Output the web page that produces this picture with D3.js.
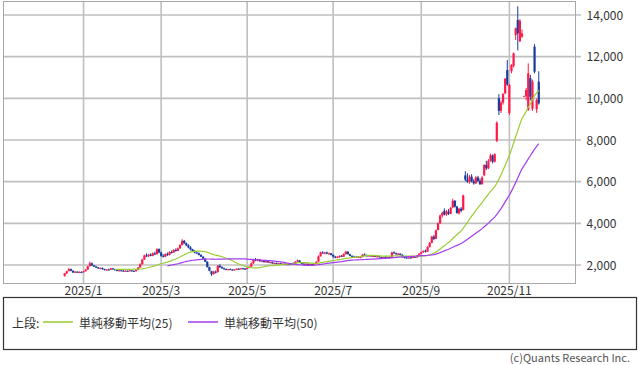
<!DOCTYPE html>
<html>
<head>
<meta charset="utf-8">
<style>
  body { margin: 0; background: #fff; }
  svg text { font-family: "Noto Sans CJK JP", "DejaVu Sans", sans-serif; }
  .axis text { font-size: 12px; fill: #333; }
  .axis path { display: none; }
  .grid line { stroke: #bfbfbf; stroke-width: 1.6; }
</style>
<script src="https://d3js.org/d3.v7.min.js"></script>
</head>
<body>
<script>
// trading days of each month (day of month)
const monthKeys = ["2024/12", "2025/1", "2025/2", "2025/3", "2025/4", "2025/5",
                   "2025/6", "2025/7", "2025/8", "2025/9", "2025/10", "2025/11"];
const monthDays = [
  [18, 19, 20, 23, 24, 25, 26, 27, 30],
  [6, 7, 8, 9, 10, 14, 15, 16, 17, 20, 21, 22, 23, 24, 27, 28, 29, 30, 31],
  [3, 4, 5, 6, 7, 10, 12, 13, 14, 17, 18, 19, 20, 21, 25, 26, 27, 28],
  [3, 4, 5, 6, 7, 10, 11, 12, 13, 14, 17, 18, 19, 21, 24, 25, 26, 27, 28, 31],
  [1, 2, 3, 4, 7, 8, 9, 10, 11, 14, 15, 16, 17, 18, 21, 22, 23, 24, 25, 28, 30],
  [1, 2, 7, 8, 9, 12, 13, 14, 15, 16, 19, 20, 21, 22, 23, 26, 27, 28, 29, 30],
  [2, 3, 4, 5, 6, 9, 10, 11, 12, 13, 16, 17, 18, 19, 20, 23, 24, 25, 26, 27, 30],
  [1, 2, 3, 4, 7, 8, 9, 10, 11, 14, 15, 16, 17, 18, 22, 23, 24, 25, 28, 29, 30, 31],
  [1, 4, 5, 6, 7, 8, 12, 13, 14, 15, 18, 19, 20, 21, 22, 25, 26, 27, 28, 29],
  [1, 2, 3, 4, 5, 8, 9, 10, 11, 12, 16, 17, 18, 19, 22, 24, 25, 26, 29, 30],
  [1, 2, 3, 6, 7, 8, 9, 10, 14, 15, 16, 17, 20, 21, 22, 23, 24, 27, 28, 29, 30, 31],
  [4, 5, 6, 7, 10, 11, 12, 13, 14, 17, 18, 19, 20, 21, 25]
];

// daily [open, high, low, close], one array per month
const ohlcDec = [
  [1480,1620,1440,1600],[1600,1720,1560,1700],[1720,1860,1680,1800],[1800,1830,1700,1720],
  [1720,1750,1620,1640],[1640,1700,1620,1680],[1680,1700,1620,1640],[1640,1700,1620,1660],
  [1660,1700,1630,1650]];
const ohlcJan = [
  [1660,1720,1640,1700],[1700,1800,1690,1780],[1780,1960,1760,1940],[1950,2160,1920,2080],
  [2080,2120,1960,1980],[1980,2000,1900,1920],[1920,1960,1860,1880],[1880,1900,1820,1840],
  [1840,1880,1800,1860],[1860,1880,1780,1800],[1800,1820,1740,1760],[1760,1800,1740,1780],
  [1780,1820,1750,1770],[1770,1860,1760,1840],[1840,1860,1780,1800],[1800,1820,1740,1760],
  [1760,1780,1700,1720],[1720,1760,1700,1740],[1740,1770,1710,1730]];
const ohlcFeb = [
  [1730,1750,1680,1700],[1700,1740,1680,1720],[1720,1740,1690,1710],[1710,1760,1700,1740],
  [1740,1760,1700,1720],[1720,1740,1690,1700],[1700,1780,1690,1760],[1760,1900,1750,1880],
  [1880,2080,1860,2040],[2040,2300,2020,2260],[2260,2500,2240,2460],[2460,2560,2380,2420],
  [2420,2520,2380,2500],[2500,2560,2420,2440],[2440,2600,2420,2560],[2560,2640,2480,2520],
  [2520,2800,2500,2760],[2760,2800,2560,2600]];
const ohlcMar = [
  [2600,2640,2400,2440],[2440,2520,2360,2400],[2400,2560,2380,2520],[2520,2600,2440,2480],
  [2480,2660,2460,2620],[2620,2700,2560,2600],[2600,2760,2580,2720],[2720,2800,2640,2680],
  [2680,2840,2660,2800],[2800,3000,2780,2960],[2960,3240,2940,3160],[3160,3200,3000,3040],
  [3040,3080,2900,2940],[2940,3000,2800,2840],[2840,2900,2700,2740],[2740,2780,2620,2660],
  [2660,2720,2560,2600],[2600,2640,2540,2560],[2560,2600,2460,2480],[2480,2520,2380,2400]];
const ohlcApr = [
  [2400,2420,2280,2300],[2300,2320,2140,2160],[2160,2180,1880,1900],[1900,1920,1700,1720],
  [1700,1720,1480,1560],[1560,1720,1540,1680],[1680,1740,1600,1640],[1660,2000,1640,1960],
  [1960,2040,1860,1900],[1900,1940,1820,1840],[1840,1880,1780,1800],[1800,1840,1760,1780],
  [1780,1820,1750,1800],[1800,1830,1760,1780],[1780,1800,1740,1760],[1760,1800,1740,1790],
  [1790,1840,1770,1820],[1820,1850,1780,1800],[1800,1860,1790,1840],[1840,1860,1800,1820],
  [1820,1860,1790,1810]];
const ohlcMay = [
  [1810,1880,1800,1860],[1860,1940,1850,1920],[1920,2120,1900,2080],[2080,2300,2060,2260],
  [2260,2340,2180,2220],[2220,2300,2180,2260],[2260,2280,2160,2180],[2180,2240,2140,2200],
  [2200,2220,2120,2140],[2140,2200,2100,2180],[2180,2200,2100,2120],[2120,2160,2080,2140],
  [2140,2160,2060,2080],[2080,2120,2040,2100],[2100,2120,2040,2060],[2060,2100,2020,2080],
  [2080,2100,2020,2040],[2040,2080,2000,2060],[2060,2080,2000,2020],[2020,2060,1990,2040]];
const ohlcJun = [
  [2040,2080,2000,2020],[2020,2100,2010,2080],[2080,2120,2040,2060],[2060,2180,2050,2160],
  [2160,2260,2140,2220],[2220,2240,2100,2120],[2120,2140,2040,2060],[2060,2100,2020,2040],
  [2040,2080,2000,2060],[2060,2080,2000,2020],[2020,2060,1990,2040],[2040,2060,2000,2020],
  [2020,2080,2010,2060],[2060,2180,2040,2160],[2160,2460,2150,2420],[2420,2640,2400,2600],
  [2600,2660,2540,2560],[2560,2620,2520,2600],[2600,2640,2520,2540],[2540,2600,2500,2560],
  [2560,2580,2460,2480]];
const ohlcJul = [
  [2480,2520,2360,2400],[2400,2440,2320,2360],[2360,2420,2320,2400],[2400,2460,2340,2440],
  [2440,2480,2380,2400],[2400,2560,2390,2520],[2520,2680,2500,2640],[2640,2660,2500,2520],
  [2520,2540,2420,2440],[2440,2460,2380,2400],[2400,2440,2360,2380],[2380,2420,2340,2400],
  [2400,2420,2340,2360],[2360,2400,2320,2380],[2380,2520,2370,2500],[2500,2560,2440,2460],
  [2460,2500,2420,2440],[2440,2480,2400,2460],[2460,2480,2400,2420],[2420,2460,2380,2440],
  [2440,2460,2380,2400],[2400,2440,2360,2420]];
const ohlcAug = [
  [2420,2440,2360,2380],[2380,2400,2320,2340],[2340,2400,2330,2380],[2380,2420,2340,2360],
  [2360,2400,2320,2380],[2380,2400,2340,2360],[2360,2640,2350,2600],[2600,2660,2540,2560],
  [2560,2600,2500,2520],[2520,2580,2480,2540],[2540,2560,2460,2480],[2480,2520,2360,2380],
  [2380,2420,2320,2360],[2360,2400,2300,2320],[2320,2380,2300,2360],[2360,2400,2320,2340],
  [2340,2420,2330,2400],[2400,2420,2340,2360],[2360,2480,2350,2460],[2460,2560,2440,2540]];
const ohlcSep = [
  [2540,2640,2520,2620],[2620,2700,2580,2680],[2680,2740,2600,2640],[2640,2900,2620,2860],
  [2860,3100,2840,3060],[3060,3400,3040,3360],[3360,3440,3200,3260],[3260,3700,3240,3660],
  [3680,4040,3660,4000],[4000,4420,3980,4380],[4380,4560,4280,4500],[4600,4720,4380,4420],
  [4420,4640,4360,4560],[4560,4680,4400,4460],[4460,4780,4440,4740],[4760,5180,4720,5080],
  [5080,5120,4760,4800],[4800,4840,4460,4500],[4480,4740,4420,4700],[4700,4780,4540,4600]];
const ohlcOct = [
  [4640,5380,4620,5340],[6300,6500,6020,6100],[6100,6400,5940,6000],[6000,6320,5900,6240],
  [6240,6360,5960,6020],[6020,6120,5860,5920],[5920,6260,5880,6200],[6200,6280,5980,6040],
  [6040,6160,5840,5880],[5880,6280,5860,6200],[6300,6840,6280,6800],[6800,7000,6560,6640],
  [6640,7080,6600,7000],[7000,7340,6960,7260],[7260,7300,6880,6960],[6960,7360,6920,7320],
  [7960,8900,7900,8820],[10000,10200,9200,9400],[9400,9900,9300,9800],[9800,10260,9700,10200],
  [10240,10980,10200,10940],[11360,11840,10600,10660]];
const ohlcNov = [
  [9300,10700,9200,10640],[11300,11640,11200,11600],[11560,12200,11480,12160],
  [13040,13400,12800,13360],[13760,14420,12300,13120],[12740,13800,12700,13720],
  [12960,13300,12900,13120],[10120,10120,10120,10120],[10100,10500,9900,10400],
  [9440,11680,9400,11200],[10960,11120,9900,10080],[9500,10900,9400,10800],
  [12480,12600,11200,11280],[9480,10000,9300,9920],[10800,11300,9700,9760]];

const yTicks = [2000, 4000, 6000, 8000, 10000, 12000, 14000];
const gridMonths = ["2025/1", "2025/3", "2025/5", "2025/7", "2025/9", "2025/11"];
const maPeriods = [25, 50];
const maColors = ["#9acd32", "#a23cf0"];
const legendLabels = ["単純移動平均(25)", "単純移動平均(50)"];

const width = 639, height = 365;
const monthly = [ohlcDec, ohlcJan, ohlcFeb, ohlcMar, ohlcApr, ohlcMay,
                 ohlcJun, ohlcJul, ohlcAug, ohlcSep, ohlcOct, ohlcNov];

const data = [];
monthKeys.forEach(function (m, mi) {
  monthDays[mi].forEach(function (d, di) {
    const v = monthly[mi][di];
    data.push({ key: m + "/" + d, month: m, open: v[0], high: v[1], low: v[2], close: v[3] });
  });
});

// simple moving average of closes
function sma(n) {
  return data.map(function (d, i) {
    if (i < n - 1) return null;
    return d3.mean(data.slice(i - n + 1, i + 1), function (e) { return e.close; });
  });
}

const svg = d3.select("body").append("svg")
  .attr("width", width).attr("height", height);
svg.append("rect").attr("width", width).attr("height", height).attr("fill", "#fff");

const plot = { left: 3.5, top: 1.5, right: 575.5, bottom: 283.5 };

const x = d3.scaleBand().domain(data.map(d => d.key)).range([63.6, 539.8]);
const y = d3.scaleLinear().domain([2000, 14000]).range([265, 15]);
const cx = k => x(k) + x.bandwidth() / 2;

const firstOfMonth = gridMonths.map(m => data.find(d => d.month === m).key);

// grid
const grid = svg.append("g").attr("class", "grid");
grid.selectAll(".hg").data(yTicks).enter().append("line")
  .attr("x1", plot.left).attr("x2", 581)
  .attr("y1", d => y(d)).attr("y2", d => y(d));
grid.selectAll(".vg").data(firstOfMonth).enter().append("line")
  .attr("x1", d => cx(d)).attr("x2", d => cx(d))
  .attr("y1", plot.top).attr("y2", plot.bottom);

svg.append("rect")
  .attr("x", plot.left).attr("y", plot.top)
  .attr("width", plot.right - plot.left).attr("height", plot.bottom - plot.top)
  .attr("fill", "none").attr("stroke", "#a8a8a8").attr("stroke-width", 1);

// axes
svg.append("g").attr("class", "axis")
  .attr("transform", "translate(" + plot.right + ",0)")
  .call(d3.axisRight(y).tickValues(yTicks).tickSize(0).tickPadding(11).tickFormat(d3.format(",")))
  .selectAll("text").attr("dy", "0.35em");

svg.append("g").attr("class", "axis")
  .attr("transform", "translate(0," + plot.bottom + ")")
  .call(d3.axisBottom(x).tickValues(firstOfMonth).tickSize(0).tickPadding(3)
    .tickFormat(k => k.split("/").slice(0, 2).join("/")));

// candles
const up = "#ff1a4a", down = "#173c9c";
const candles = svg.append("g").selectAll("g").data(data).enter().append("g");
candles.append("line")
  .attr("x1", d => cx(d.key)).attr("x2", d => cx(d.key))
  .attr("y1", d => y(d.high)).attr("y2", d => y(d.low))
  .attr("stroke", d => d.close >= d.open ? up : down).attr("stroke-width", 1);
candles.append("rect")
  .attr("x", d => cx(d.key) - 1.1).attr("width", 2.2)
  .attr("y", d => y(Math.max(d.open, d.close)))
  .attr("height", d => Math.max(1, Math.abs(y(d.open) - y(d.close))))
  .attr("fill", d => d.close >= d.open ? up : down);

// moving averages
maPeriods.forEach(function (n, i) {
  const vals = sma(n);
  const line = d3.line()
    .defined((d, j) => vals[j] != null)
    .x(d => cx(d.key))
    .y((d, j) => y(vals[j]));
  svg.append("path").datum(data)
    .attr("d", line).attr("fill", "none")
    .attr("stroke", maColors[i]).attr("stroke-width", 1.2);
});

// legend
svg.append("rect").attr("x", 3.5).attr("y", 297.5).attr("width", 633).attr("height", 52)
  .attr("fill", "none").attr("stroke", "#333").attr("stroke-width", 1.2);
svg.append("text").attr("x", 12).attr("y", 322).attr("dominant-baseline", "central")
  .attr("font-size", 12).attr("fill", "#333").text("上段:");
const lx = [43, 188];
legendLabels.forEach(function (t, i) {
  svg.append("line").attr("x1", lx[i]).attr("x2", lx[i] + 30).attr("y1", 322).attr("y2", 322)
    .attr("stroke", maColors[i]).attr("stroke-width", 1.5);
  svg.append("text").attr("x", lx[i] + 36).attr("y", 322).attr("dominant-baseline", "central")
    .attr("font-size", 12).attr("fill", "#333").text(t);
});

svg.append("text").attr("x", 630).attr("y", 357).attr("dominant-baseline", "central")
  .attr("text-anchor", "end").attr("font-size", 11).attr("fill", "#555")
  .text("(c)Quants Research Inc.");
</script>
</body>
</html>
